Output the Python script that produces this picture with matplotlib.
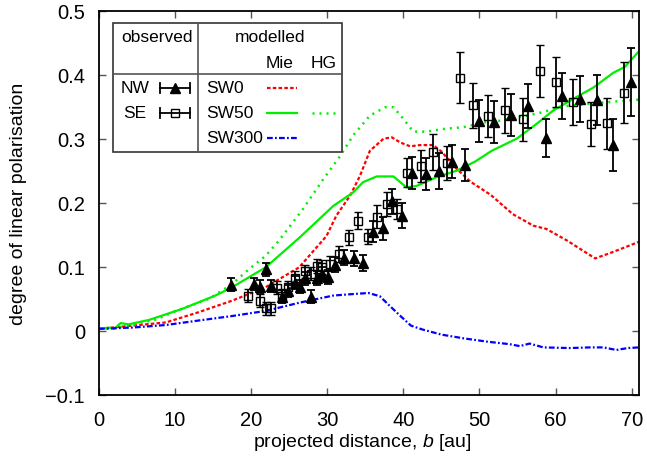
import matplotlib
matplotlib.use("Agg")
import matplotlib.pyplot as plt

plt.rcParams['font.family'] = ['Liberation Sans', 'DejaVu Sans']
plt.rcParams['mathtext.fontset'] = 'custom'
plt.rcParams['mathtext.it'] = 'Liberation Sans:italic'
plt.rcParams['mathtext.rm'] = 'Liberation Sans'

# ---------------- data ----------------
nw_x = [17.4, 20.4, 21.2, 21.9, 22.6, 24.1, 24.9, 25.7, 26.4, 27.1,
        27.8, 28.6, 29.3, 30.1, 31.0, 32.2, 33.5, 34.7, 36.0, 37.3,
        38.5, 39.8, 41.2, 43.0, 44.7, 46.4, 48.1, 49.9, 51.9, 54.1,
        56.4, 58.7, 60.9, 63.2, 65.4, 67.6, 69.9]
nw_y = [0.072, 0.073, 0.069, 0.096, 0.070, 0.053, 0.062, 0.075, 0.069, 0.082,
        0.053, 0.082, 0.088, 0.084, 0.103, 0.114, 0.113, 0.106, 0.155, 0.160,
        0.202, 0.180, 0.247, 0.245, 0.250, 0.264, 0.259, 0.328, 0.326, 0.337,
        0.351, 0.301, 0.367, 0.362, 0.361, 0.290, 0.388]
nw_err = [0.010, 0.010, 0.010, 0.010, 0.010, 0.010, 0.010, 0.010, 0.010, 0.010,
          0.010, 0.011, 0.011, 0.011, 0.012, 0.012, 0.012, 0.012, 0.017, 0.018,
          0.020, 0.020, 0.025, 0.025, 0.028, 0.026, 0.025, 0.033, 0.033, 0.033,
          0.035, 0.030, 0.036, 0.036, 0.039, 0.041, 0.053]

se_x = [19.6, 21.2, 21.9, 22.6, 23.4, 24.1, 24.8, 25.7, 27.1, 27.9,
        28.6, 29.3, 30.4, 31.6, 32.8, 34.1, 35.3, 36.6, 37.8, 39.1,
        40.5, 42.3, 43.9, 45.7, 47.4, 49.2, 51.1, 53.4, 55.7, 57.9,
        60.1, 62.3, 64.6, 66.8, 69.0]
se_y = [0.055, 0.047, 0.035, 0.035, 0.067, 0.055, 0.068, 0.083, 0.093, 0.089,
        0.101, 0.099, 0.105, 0.120, 0.146, 0.172, 0.147, 0.178, 0.198, 0.190,
        0.247, 0.258, 0.279, 0.262, 0.395, 0.352, 0.335, 0.344, 0.330, 0.406,
        0.388, 0.357, 0.323, 0.324, 0.372]
se_err = [0.010, 0.010, 0.010, 0.010, 0.010, 0.010, 0.010, 0.010, 0.010, 0.010,
          0.011, 0.011, 0.011, 0.012, 0.012, 0.013, 0.012, 0.018, 0.018, 0.016,
          0.023, 0.025, 0.028, 0.027, 0.040, 0.035, 0.033, 0.035, 0.033, 0.041,
          0.039, 0.036, 0.035, 0.040, 0.048]

sw0_x = [0, 4.4, 8.8, 13.1, 17.5, 21.9, 26.3, 29.9, 31.2, 33.0,
         34.3, 35.6, 37.4, 38.5, 39.6, 40.9, 42.2, 43.9, 45.0, 47.0,
         48.8, 51.5, 54.4, 57.1, 58.8, 61.5, 65.2, 67.1, 71.0]
sw0_y = [0.003, 0.008, 0.013, 0.029, 0.047, 0.068, 0.099, 0.148, 0.180, 0.211,
         0.242, 0.281, 0.300, 0.302, 0.294, 0.288, 0.290, 0.290, 0.280, 0.253,
         0.233, 0.212, 0.182, 0.164, 0.159, 0.141, 0.113, 0.121, 0.139]

sw50_x = [0, 1.3, 2.0, 2.85, 3.9, 6.6, 10.9, 15.3, 17.5, 21.9,
          26.4, 30.8, 33.4, 34.7, 36.5, 38.7, 40.4, 41.7, 44.4, 47.0,
          49.4, 51.6, 54.9, 57.5, 59.7, 62.3, 65.0, 67.6, 69.1, 71.0]
sw50_y = [0.003, 0.005, 0.003, 0.012, 0.010, 0.017, 0.034, 0.055, 0.068, 0.099,
          0.146, 0.195, 0.216, 0.232, 0.241, 0.241, 0.224, 0.226, 0.240, 0.250,
          0.264, 0.281, 0.300, 0.323, 0.344, 0.362, 0.380, 0.403, 0.412, 0.437]

sw50hg_x = [0, 2, 4, 7.6, 10.1, 14.5, 17.5, 19.7, 21.9, 23.6,
            26.8, 29.5, 31.7, 33.4, 35.6, 37.6, 38.7, 40.0, 41.3, 43.1,
            45.2, 47.9, 50.9, 52.7, 57.5, 61.4, 65.8, 68.9, 71.0]
sw50hg_y = [0.003, 0.004, 0.008, 0.018, 0.031, 0.050, 0.073, 0.096, 0.117, 0.140,
            0.190, 0.237, 0.273, 0.305, 0.336, 0.349, 0.349, 0.331, 0.311, 0.311,
            0.315, 0.318, 0.326, 0.328, 0.339, 0.351, 0.356, 0.359, 0.361]

sw300_x = [0, 4.4, 8.8, 13.1, 17.5, 21.9, 26.4, 30.8, 33.0, 35.4,
           36.9, 38.2, 39.8, 41.0, 42.5, 45.0, 48.0, 51.0, 54.0, 55.3,
           56.6, 58.4, 61.9, 64.5, 66.3, 68.0, 69.5, 71.0]
sw300_y = [0.003, 0.005, 0.009, 0.016, 0.023, 0.031, 0.044, 0.055, 0.057, 0.059,
           0.054, 0.039, 0.021, 0.008, 0.002, -0.006, -0.012, -0.017, -0.021, -0.024,
           -0.020, -0.026, -0.027, -0.026, -0.026, -0.030, -0.027, -0.026]

x_ticks = [0, 10, 20, 30, 40, 50, 60, 70]
y_ticks = [-0.1, 0, 0.1, 0.2, 0.3, 0.4, 0.5]
y_ticklabels = ['\u22120.1', '0', '0.1', '0.2', '0.3', '0.4', '0.5']

# ---------------- figure ----------------
fig = plt.figure(figsize=(6.47, 4.64), dpi=100)
ax = fig.add_axes([0.153, 0.147, 0.835, 0.828])

RED = '#ff0000'
GREEN = '#00ee00'
BLUE = '#0000ff'
LS_RED = (0, (1.6, 1.0))
LS_HG = (0, (0.8, 2.0))
LS_BLUE = (0, (2.6, 1.0, 0.8, 1.0))

ax.plot(sw0_x, sw0_y, color=RED, lw=1.6, linestyle=LS_RED)
ax.plot(sw50_x, sw50_y, color=GREEN, lw=1.6, linestyle='-')
ax.plot(sw50hg_x, sw50hg_y, color=GREEN, lw=1.8, linestyle=LS_HG)
ax.plot(sw300_x, sw300_y, color=BLUE, lw=1.6, linestyle=LS_BLUE)

ax.errorbar(nw_x, nw_y, yerr=nw_err, fmt='^', color='black', ms=6.5,
            elinewidth=1.3, capsize=3, capthick=1.3, zorder=5)
ax.errorbar(se_x, se_y, yerr=se_err, fmt='s', color='black', mfc='none',
            mec='black', mew=1.0, ms=6, elinewidth=1.3, capsize=3,
            capthick=1.3, zorder=5)

ax.set_xlim(0, 71)
ax.set_ylim(-0.1, 0.5)
ax.set_xticks(x_ticks)
ax.set_yticks(y_ticks)
ax.set_yticklabels(y_ticklabels)
ax.tick_params(direction='in', length=5, width=1.0, color='#555555',
               top=True, right=True, labelsize=14.5)
ax.tick_params(axis='y', pad=10)
ax.tick_params(axis='x', pad=11)
for s in ax.spines.values():
    s.set_linewidth(1.3)
    s.set_color('black')

ax.set_xlabel(r'projected distance, $b$ [au]', fontsize=14)
ax.set_ylabel('degree of linear polarisation', fontsize=14)
ax.xaxis.set_label_coords(0.487, -0.093)
ax.yaxis.set_label_coords(-0.133, 0.50)

# ---------------- custom legend table ----------------
T = ax.transAxes
bx0, bx1, by0, by1 = 0.0265, 0.4497, 0.633, 0.967
vdiv, hdiv = 0.1827, 0.834
ax.add_patch(plt.Rectangle((bx0, by0), bx1 - bx0, by1 - by0, transform=T,
                           facecolor='white', edgecolor='#333333', lw=1.2,
                           zorder=8))
ax.plot([vdiv, vdiv], [by0, by1], transform=T, color='#555555', lw=1.2, zorder=9)
ax.plot([bx0, bx1], [hdiv, hdiv], transform=T, color='#555555', lw=1.2, zorder=9)

fs = 12.5
ax.text(0.1068, 0.933, 'observed', transform=T, ha='center', va='center', fontsize=fs, zorder=10)
ax.text(0.3165, 0.933, 'modelled', transform=T, ha='center', va='center', fontsize=fs, zorder=10)
ax.text(0.335, 0.866, 'Mie', transform=T, ha='center', va='center', fontsize=fs, zorder=10)
ax.text(0.4164, 0.866, 'HG', transform=T, ha='center', va='center', fontsize=fs, zorder=10)

rows = [0.7987, 0.734, 0.6685]
ax.text(0.0666, rows[0], 'NW', transform=T, ha='center', va='center', fontsize=fs, zorder=10)
ax.text(0.0666, rows[1], 'SE', transform=T, ha='center', va='center', fontsize=fs, zorder=10)

ex0, ex1, exc = 0.1129, 0.1684, 0.1407
cap = 0.013
for r, mk, fc in [(rows[0], '^', 'black'), (rows[1], 's', 'none')]:
    ax.plot([ex0, ex1], [r, r], transform=T, color='black', lw=1.3, zorder=10)
    ax.plot([ex0, ex0], [r - cap, r + cap], transform=T, color='black', lw=1.3, zorder=10)
    ax.plot([ex1, ex1], [r - cap, r + cap], transform=T, color='black', lw=1.3, zorder=10)
    ax.plot([exc], [r], transform=T, marker=mk, ms=6.5 if mk == '^' else 6,
            mfc=fc, mec='black', mew=1.0, color='black', zorder=11)

for r, name in zip(rows, ['SW0', 'SW50', 'SW300']):
    ax.text(0.198, r, name, transform=T, ha='left', va='center', fontsize=fs, zorder=10)

mx0, mx1 = 0.311, 0.3665
hx0, hx1 = 0.394, 0.447
ax.plot([mx0, mx1], [rows[0]] * 2, transform=T, color=RED, lw=1.6,
        linestyle=LS_RED, zorder=10)
ax.plot([mx0, mx1], [rows[1]] * 2, transform=T, color=GREEN, lw=1.6, zorder=10)
ax.plot([hx0, hx1], [rows[1]] * 2, transform=T, color=GREEN, lw=1.8,
        linestyle=LS_HG, zorder=10)
ax.plot([mx0, mx1], [rows[2]] * 2, transform=T, color=BLUE, lw=1.6,
        linestyle=LS_BLUE, zorder=10)

fig.savefig('out.png', dpi=100)
